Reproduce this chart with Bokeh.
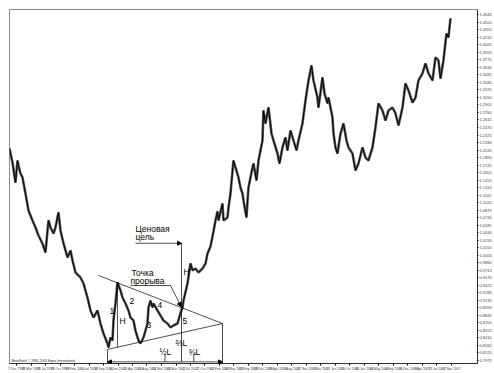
from bokeh.plotting import figure
from bokeh.models import (Range1d, FixedTicker, SingleIntervalTicker, NumeralTickFormatter,
                          Arrow, NormalHead, Label, ColumnDataSource)
from bokeh.core.properties import value
from bokeh.embed import file_html
from bokeh.resources import INLINE
import numpy as np

# ---- price series (decimal year, EUR/USD) ----
years = [1998.790, 1998.851, 1998.913, 1998.954, 1998.975, 1999.016, 1999.057, 1999.118, 1999.180,
         1999.262, 1999.324, 1999.385, 1999.467, 1999.529, 1999.591, 1999.632, 1999.693, 1999.734,
         1999.796, 1999.837, 1999.899, 1999.981, 2000.043, 2000.084, 2000.145, 2000.207, 2000.248,
         2000.309, 2000.391, 2000.453, 2000.515, 2000.597, 2000.658, 2000.720, 2000.802, 2000.823,
         2000.864, 2000.905, 2000.925, 2000.966, 2001.007, 2001.069, 2001.110, 2001.172, 2001.233,
         2001.274, 2001.336, 2001.377, 2001.439, 2001.480, 2001.541, 2001.623, 2001.644, 2001.685,
         2001.726, 2001.747, 2001.829, 2001.890, 2001.952, 2002.034, 2002.096, 2002.157, 2002.239,
         2002.301, 2002.342, 2002.363, 2002.445, 2002.506, 2002.548, 2002.609, 2002.671, 2002.753,
         2002.815, 2002.856, 2002.917, 2002.979, 2003.020, 2003.061, 2003.081, 2003.164, 2003.184,
         2003.266, 2003.287, 2003.328, 2003.389, 2003.430, 2003.492, 2003.533, 2003.574, 2003.595,
         2003.656, 2003.697, 2003.780, 2003.800, 2003.862, 2003.903, 2003.985, 2004.005, 2004.046,
         2004.108, 2004.170, 2004.211, 2004.293, 2004.334, 2004.395, 2004.457, 2004.498, 2004.560,
         2004.622, 2004.683, 2004.724, 2004.806, 2004.868, 2004.930, 2004.991, 2005.032, 2005.114,
         2005.135, 2005.217, 2005.258, 2005.320, 2005.340, 2005.422, 2005.443, 2005.484, 2005.525,
         2005.587, 2005.648, 2005.710, 2005.751, 2005.833, 2005.895, 2005.956, 2006.038, 2006.100,
         2006.161, 2006.243, 2006.305, 2006.367, 2006.449, 2006.511, 2006.572, 2006.654, 2006.716,
         2006.778, 2006.860, 2006.921, 2006.983, 2007.065, 2007.127, 2007.188, 2007.270, 2007.332,
         2007.394, 2007.476, 2007.537, 2007.599, 2007.640, 2007.701, 2007.763, 2007.804, 2007.845]
prices = [1.2065, 1.1795, 1.1408, 1.1833, 1.1737, 1.1582, 1.1505, 1.1196, 1.0868,
          1.0675, 1.0540, 1.0385, 1.0231, 1.0057, 1.0675, 1.0540, 1.0424, 1.0540,
          1.0829, 1.0482, 1.0231, 0.9961, 1.0096, 0.9903, 0.9671, 0.9613, 0.9575,
          0.9459, 0.9188, 0.8937, 0.8802, 0.8937, 0.8686, 0.8493, 0.8300, 0.8223,
          0.8416, 0.8358, 0.8744, 0.9073, 0.9478, 0.9324, 0.9188, 0.9073, 0.8937,
          0.8802, 0.8744, 0.8551, 0.8358, 0.8300, 0.8416, 0.8686, 0.8995, 0.9130,
          0.8995, 0.9073, 0.8937, 0.8841, 0.8744, 0.8686, 0.8609, 0.8648, 0.8686,
          0.8880, 0.8995, 0.9130, 0.9459, 0.9845, 0.9710, 0.9748, 0.9671, 0.9748,
          0.9845, 1.0038, 1.0173, 1.0463, 1.0675, 1.0849, 1.0675, 1.1003, 1.0675,
          1.0733, 1.0926, 1.1196, 1.1833, 1.1698, 1.1505, 1.1312, 1.1196, 1.1061,
          1.0733, 1.1312, 1.1698, 1.1775, 1.1447, 1.1833, 1.2219, 1.2798, 1.2547,
          1.2856, 1.2354, 1.2219, 1.1968, 1.1775, 1.2084, 1.2277, 1.2026, 1.2412,
          1.2219, 1.2026, 1.2219, 1.2547, 1.2991, 1.3378, 1.3667, 1.3378, 1.3049,
          1.2856, 1.3436, 1.3127, 1.2934, 1.3049, 1.2663, 1.2354, 1.2084, 1.1968,
          1.2354, 1.2547, 1.2219, 1.2084, 1.1968, 1.1640, 1.1775, 1.2084, 1.1891,
          1.1833, 1.2084, 1.2470, 1.2934, 1.2798, 1.2605, 1.2798, 1.2856, 1.2741,
          1.2509, 1.2856, 1.3320, 1.3185, 1.2953, 1.3049, 1.3378, 1.3513, 1.3706,
          1.3513, 1.3378, 1.3822, 1.3764, 1.3416, 1.3764, 1.4285, 1.4208, 1.4575]

# ---- x-axis date labels ----
tick_years = [1998.934, 1999.232, 1999.530, 1999.827, 2000.125, 2000.423, 2000.720, 2001.018,
              2001.316, 2001.613, 2001.911, 2002.209, 2002.506, 2002.804, 2003.102, 2003.399,
              2003.697, 2003.995, 2004.292, 2004.590, 2004.888, 2005.185, 2005.483, 2005.781,
              2006.078, 2006.376, 2006.674, 2006.971, 2007.269, 2007.567, 2007.864]
tick_labels = ["7 Dec 1998", "22 Mar 1999", "12 Jul 1999", "25 Oct 1999", "14 Feb 2000",
               "5 Jun 2000", "18 Sep 2000", "8 Jan 2001", "23 Apr 2001", "13 Aug 2001",
               "26 Nov 2001", "18 Mar 2002", "1 Jul 2002", "21 Oct 2002", "10 Feb 2003",
               "26 May 2003", "15 Sep 2003", "29 Dec 2003", "19 Apr 2004", "2 Aug 2004",
               "22 Nov 2004", "7 Mar 2005", "27 Jun 2005", "10 Oct 2005", "30 Jan 2006",
               "15 May 2006", "4 Sep 2006", "18 Dec 2006", "9 Apr 2007", "23 Jul 2007",
               "12 Nov 2007"]

# ---- triangle construction ----
upper_years = [2000.617, 2003.164]
upper_prices = [0.9613, 0.8686]
lower_years = [2000.802, 2003.164]
lower_prices = [0.8185, 0.8686]
height_year = 2001.007      # where the triangle height H is measured
breakout_year = 2002.322    # breakout point
arrow_level = 0.7945        # level of the L arrow under the pattern
last_price = 1.4575

ACC = "#000000"
FONT = "Liberation Sans"

x_lo, x_hi = 1998.790, 2008.400
y_lo, y_hi = 0.7914, 1.4748

p = figure(width=494, height=373, output_backend="svg", toolbar_location=None,
           x_range=Range1d(x_lo, x_hi), y_range=Range1d(y_lo, y_hi),
           y_axis_location="right", min_border_left=9, min_border_top=9,
           min_border_bottom=10, min_border_right=17)
p.grid.visible = False
p.outline_line_color = "#8a8a8a"
p.outline_line_width = 1
p.background_fill_color = "white"
p.border_fill_color = "white"

# axes
xa = p.xaxis[0]
xa.ticker = FixedTicker(ticks=tick_years)
xa.major_label_overrides = {yv: lab for yv, lab in zip(tick_years, tick_labels)}
xa.major_label_text_font_size = "3.3px"
xa.major_label_text_font = FONT
xa.major_label_standoff = 1
xa.major_tick_out = 2
xa.major_tick_in = 0
xa.minor_tick_line_color = None
xa.axis_line_color = "#333333"

ya = p.yaxis[0]
ya.ticker = SingleIntervalTicker(interval=0.0145, num_minor_ticks=0)
ya.formatter = NumeralTickFormatter(format="0.0000")
ya.major_label_text_font_size = "4px"
ya.major_label_text_font = FONT
ya.major_label_standoff = 1
ya.major_tick_out = 1
ya.major_tick_in = 0
ya.minor_tick_line_color = None
ya.axis_line_color = "#333333"

# price
p.line(years, prices, line_color="#5a5a5a", line_width=2.6)
p.line(years, prices, line_color="#000000", line_width=1.0)

# triangle lines
p.line(upper_years, upper_prices, line_color=ACC, line_width=0.7)
p.line(lower_years, lower_prices, line_color=ACC, line_width=0.7)

hu = float(np.interp(height_year, upper_years, upper_prices))
hl = float(np.interp(height_year, lower_years, lower_prices))
H = hu - hl
bo_p = float(np.interp(breakout_year, upper_years, upper_prices))
target = bo_p + H
apex_year = upper_years[1]
L = apex_year - lower_years[0]

# height line inside triangle
p.segment([height_year], [hl], [height_year], [hu], line_color=ACC, line_width=0.7)
# target vertical line
p.segment([breakout_year], [bo_p], [breakout_year], [target], line_color=ACC, line_width=0.7)
# verticals at start and apex, down to the L arrow
p.segment([lower_years[0], apex_year], [lower_prices[0], lower_prices[1]],
          [lower_years[0], apex_year], [arrow_level - 0.002, arrow_level - 0.002],
          line_color=ACC, line_width=0.7)
# fraction markers
short_top = 0.8088
p.segment([lower_years[0] + 0.5 * L, lower_years[0] + 0.75 * L], [short_top, short_top],
          [lower_years[0] + 0.5 * L, lower_years[0] + 0.75 * L], [arrow_level, arrow_level],
          line_color=ACC, line_width=0.7)
p.segment([breakout_year], [bo_p], [breakout_year], [arrow_level], line_color=ACC, line_width=0.7)

# L double arrow
p.add_layout(Arrow(start=NormalHead(size=4, fill_color=ACC, line_color=ACC),
                   end=NormalHead(size=4, fill_color=ACC, line_color=ACC),
                   x_start=lower_years[0], y_start=arrow_level, x_end=apex_year, y_end=arrow_level,
                   line_color=ACC, line_width=0.7))

# price target pointer
lab_target_x = 2001.377
p.add_layout(Arrow(end=NormalHead(size=4, fill_color=ACC, line_color=ACC),
                   x_start=lab_target_x, y_start=target, x_end=breakout_year, y_end=target,
                   line_color=ACC, line_width=0.7))

# breakout pointer
lab_bo_x0, lab_bo_x1, lab_bo_y = 2001.274, 2002.096, 0.9420
p.line([lab_bo_x0, lab_bo_x1], [lab_bo_y, lab_bo_y], line_color=ACC, line_width=0.7)
p.add_layout(Arrow(end=NormalHead(size=4, fill_color=ACC, line_color=ACC),
                   x_start=lab_bo_x1, y_start=lab_bo_y, x_end=breakout_year - 0.01, y_end=bo_p + 0.002,
                   line_color=ACC, line_width=0.7))

# texts
ann_text = ["Ценовая", "цель", "Точка", "прорыва", "1", "H", "2", "3", "4", "5", "H", "½L", "⅔L", "¾L"]
ann_x = [2001.377, 2001.377, 2001.295, 2001.274, 2000.843, 2001.049, 2001.254, 2001.603,
         2001.829, 2002.342, 2002.363, 2001.870, 2002.198, 2002.465]
ann_y = [1.0598, 1.0443, 0.9748, 0.9594, 0.8995, 0.8822, 0.9188, 0.8706,
         0.9092, 0.8802, 0.9768, 0.8242, 0.8397, 0.8242]
src = ColumnDataSource(dict(x=ann_x, y=ann_y, t=ann_text))
p.text(x="x", y="y", text="t", source=src, text_font=value(FONT), text_font_size="8.5px",
       text_align="left", text_baseline="top", text_color=ACC)

p.add_layout(Label(x=1998.83, y=y_lo + 0.001, text="MetaStock © 1985-2005 Equis International",
                   text_font=FONT, text_font_size="3.3px", text_baseline="bottom", text_color="#222222"))
p.add_layout(Label(x=x_hi, y=last_price, x_offset=2, text="%.4f" % last_price,
                   text_font=FONT, text_font_size="4px", text_baseline="middle",
                   text_color="white", background_fill_color="black"))

open("out.html", "w").write(file_html(p, INLINE))
